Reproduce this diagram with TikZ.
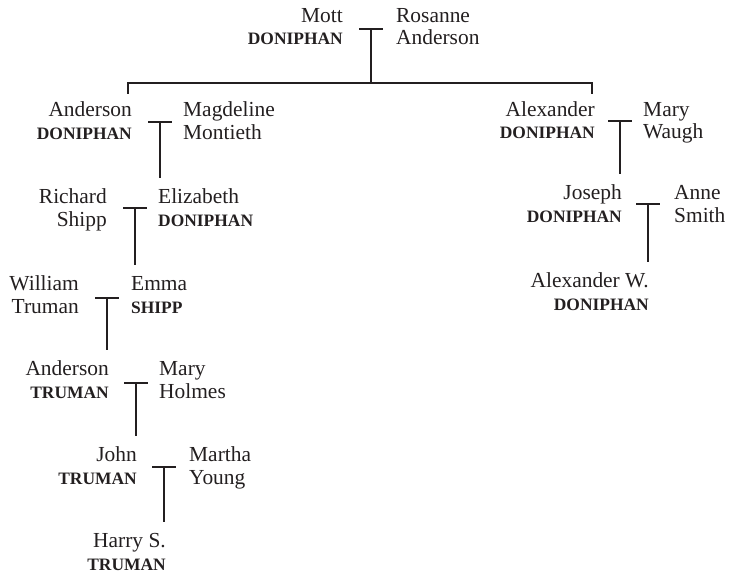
\documentclass[tikz,border=0pt]{standalone}
\usepackage{fontspec}
\setmainfont{Liberation Serif}
\definecolor{ink}{HTML}{231F20}
\newcommand\sur[1]{{\fontsize{17.5}{23}\selectfont\bfseries #1}}
\begin{document}
\begin{tikzpicture}[x=1bp,y=-1bp,
  person/.style={inner xsep=0pt, inner ysep=10.5bp, font=\fontsize{21.5}{23}\selectfont, text=ink},
  lft/.style={person, align=right, anchor=base east},
  rgt/.style={person, align=left, anchor=base west},
  link/.style={draw=ink, line width=2.1bp},
  bar/.style={link, shorten <=-11.8bp, shorten >=-11.8bp}]
\useasboundingbox (0,0) rectangle (729,574);

% people (anchor = baseline of the last line)
\node[lft] (mott)    at (343,45)    {Mott\\\sur{DONIPHAN}};
\node[rgt] (rosanne) at (396,45)    {Rosanne\\Anderson};
\node[lft] (andD)    at (132,139.2) {Anderson\\\sur{DONIPHAN}};
\node[rgt] (magd)    at (183,139.2) {Magdeline\\Montieth};
\node[lft] (richard) at (107,226.5) {Richard\\Shipp};
\node[rgt] (eliz)    at (158,226.5) {Elizabeth\\\sur{DONIPHAN}};
\node[lft] (william) at (79,313)    {William\\Truman};
\node[rgt] (emma)    at (131,313)   {Emma\\\sur{SHIPP}};
\node[lft] (andT)    at (109,398)   {Anderson\\\sur{TRUMAN}};
\node[rgt] (maryH)   at (159,398)   {Mary\\Holmes};
\node[lft] (john)    at (137,484)   {John\\\sur{TRUMAN}};
\node[rgt] (martha)  at (189,484)   {Martha\\Young};
\node[lft] (harry)   at (166,570)   {Harry S.\\\sur{TRUMAN}};
\node[lft] (alexD)   at (595,139)   {Alexander\\\sur{DONIPHAN}};
\node[rgt] (maryW)   at (643,139)   {Mary\\Waugh};
\node[lft] (joseph)  at (622,222)   {Joseph\\\sur{DONIPHAN}};
\node[rgt] (anne)    at (674,222)   {Anne\\Smith};
\node[lft] (alexW)   at (649,310)   {Alexander W.\\\sur{DONIPHAN}};

% marriage bar centres
\coordinate (t0) at (371,29);
\coordinate (h0) at (371,83);
\coordinate (tA) at (160,122);
\coordinate (tB) at (135,208);
\coordinate (tC) at (107,298);
\coordinate (tD) at (136,383);
\coordinate (tE) at (164,467);
\coordinate (tF) at (620,121);
\coordinate (tG) at (648,204);

% top couple and its children
\draw[bar] ([xshift=-0.01bp]t0) -- ([xshift=0.01bp]t0);
\draw[link] (t0) -- (h0);
\draw[link] ([xshift=-4bp,yshift=-3bp]andD.north east) |- (h0) -| ([xshift=-3bp,yshift=-3bp]alexD.north east);

% left line
\draw[bar] ([xshift=-0.01bp]tA) -- ([xshift=0.01bp]tA);
\draw[link] (tA) -- (tA |- eliz.north);
\draw[bar] ([xshift=-0.01bp]tB) -- ([xshift=0.01bp]tB);
\draw[link] (tB) -- (tB |- emma.north);
\draw[bar] ([xshift=-0.01bp]tC) -- ([xshift=0.01bp]tC);
\draw[link] (tC) -- (tC |- andT.north);
\draw[bar] ([xshift=-0.01bp]tD) -- ([xshift=0.01bp]tD);
\draw[link] (tD) -- (tD |- john.north);
\draw[bar] ([xshift=-0.01bp]tE) -- ([xshift=0.01bp]tE);
\draw[link] (tE) -- (tE |- harry.north);

% right line
\draw[bar] ([xshift=-0.01bp]tF) -- ([xshift=0.01bp]tF);
\draw[link] (tF) -- (tF |- joseph.north);
\draw[bar] ([xshift=-0.01bp]tG) -- ([xshift=0.01bp]tG);
\draw[link] (tG) -- (tG |- alexW.north);
\end{tikzpicture}
\end{document}
